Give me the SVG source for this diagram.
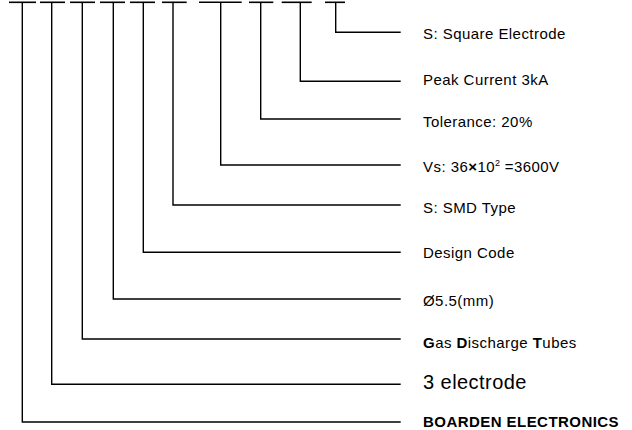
<svg xmlns="http://www.w3.org/2000/svg" width="632" height="430" viewBox="0 0 632 430">
<style>
  .ln{fill:none;stroke:#000;stroke-width:1.4;stroke-linecap:butt;stroke-linejoin:miter}
  .dash{fill:none;stroke:#000;stroke-width:1.6}
  .t{font-family:"Liberation Sans",Arial,sans-serif;font-size:15px;letter-spacing:0.45px;fill:#000}
  .b{font-weight:bold}
  .big{font-size:20px}
</style>
<rect width="632" height="430" fill="#fff"/>
<g id="code-dashes">
  <line class="dash" x1="9" y1="2.3" x2="36" y2="2.3"/>
  <line class="dash" x1="40" y1="2.3" x2="65" y2="2.3"/>
  <line class="dash" x1="70" y1="2.3" x2="95" y2="2.3"/>
  <line class="dash" x1="100" y1="2.3" x2="125" y2="2.3"/>
  <line class="dash" x1="130" y1="2.3" x2="155" y2="2.3"/>
  <line class="dash" x1="162" y1="2.3" x2="186.7" y2="2.3"/>
  <line class="dash" x1="199" y1="2.3" x2="241.7" y2="2.3"/>
  <line class="dash" x1="249" y1="2.3" x2="273.3" y2="2.3"/>
  <line class="dash" x1="281.7" y1="2.3" x2="311.7" y2="2.3"/>
  <line class="dash" x1="325" y1="2.3" x2="345" y2="2.3"/>
</g>
<g id="connectors">
  <path class="ln" d="M22.3 2.3V422H400.7"/>
  <path class="ln" d="M51.7 2.3V384.3H400.7"/>
  <path class="ln" d="M82.3 2.3V339H400.7"/>
  <path class="ln" d="M113.3 2.3V299H400.7"/>
  <path class="ln" d="M143.3 2.3V252.3H400.7"/>
  <path class="ln" d="M173 2.3V205H400.7"/>
  <path class="ln" d="M220.7 2.3V165H400.7"/>
  <path class="ln" d="M260.7 2.3V119H400.7"/>
  <path class="ln" d="M300.3 2.3V81.3H400.7"/>
  <path class="ln" d="M335.7 2.3V32.3H400.7"/>
</g>
<g id="square-electrode"><text class="t" x="423" y="38.5">S: Square Electrode</text></g>
<g id="peak-current"><text class="t" x="423" y="85.3">Peak Current 3kA</text></g>
<g id="tolerance"><text class="t" x="423" y="127">Tolerance: 20%</text></g>
<g id="vs"><text class="t" x="423" y="171.5">Vs: 36<tspan class="b">×</tspan>10<tspan font-size="9" dy="-6" letter-spacing="0">2</tspan><tspan dy="6" letter-spacing="0.45"> =3600V</tspan></text></g>
<g id="smd-type"><text class="t" x="423" y="213">S: SMD Type</text></g>
<g id="design-code"><text class="t" x="423" y="258.3">Design Code</text></g>
<g id="diameter"><text class="t" x="423" y="305.5">Ø5.5(mm)</text></g>
<g id="gdt"><text class="t" x="423" y="348"><tspan class="b">G</tspan>as <tspan class="b">D</tspan>ischarge <tspan class="b">T</tspan>ubes</text></g>
<g id="electrode"><text class="t big" x="423" y="388.5">3 electrode</text></g>
<g id="brand"><text class="t b" x="423" y="426.7" letter-spacing="0.5">BOARDEN ELECTRONICS</text></g>
</svg>
